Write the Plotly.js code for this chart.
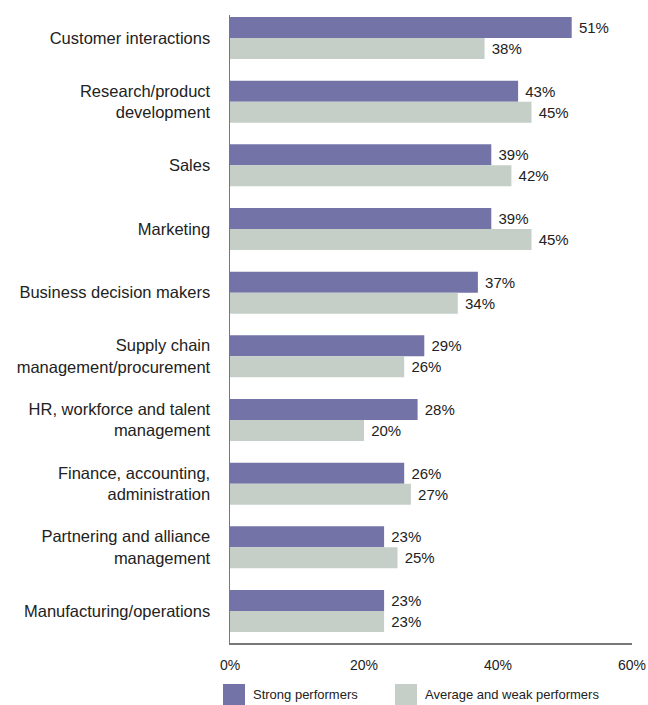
<!DOCTYPE html>
<html>
<head>
<meta charset="utf-8">
<script src="https://cdn.plot.ly/plotly-3.0.1.min.js"></script>
<style>html,body{margin:0;padding:0;background:#fff;}#chart{width:648px;height:705px;}</style>
</head>
<body>
<div id="chart"></div>
<script>
var categories = [
  "Customer interactions",
  "Research/product<br>development",
  "Sales",
  "Marketing",
  "Business decision makers",
  "Supply chain<br>management/procurement",
  "HR, workforce and talent<br>management",
  "Finance, accounting,<br>administration",
  "Partnering and alliance<br>management",
  "Manufacturing/operations"
];
var strongPerformers = [51, 43, 39, 39, 37, 29, 28, 26, 23, 23];
var averageWeakPerformers = [38, 45, 42, 45, 34, 26, 20, 27, 25, 23];
var seriesNames = ["Strong performers", "Average and weak performers"];
var xTickVals = [0, 20, 40, 60];
var xTickText = ["0%", "20%", "40%", "60%"];

var colors = ["#7473a8", "#c5cfc8"];
var FONT = "Liberation Sans, Arial, sans-serif";

var traces = [strongPerformers, averageWeakPerformers].map(function (vals, i) {
  return {
    type: "bar",
    orientation: "h",
    name: seriesNames[i],
    y: categories,
    x: vals,
    marker: { color: colors[i] },
    text: vals.map(function (v) { return "\u00a0" + v + "%"; }),
    texttemplate: "%{text}",
    textposition: "outside",
    cliponaxis: false,
    textfont: { family: FONT, size: 15, color: "#222" },
    hoverinfo: "x+y"
  };
});

// plot area in pixels: x 230..632, y 15..643
var L = 230, R = 632, T = 15, B = 643;
function px(X) { return (X - L) / (R - L); }
function py(Y) { return (B - Y) / (B - T); }

var layout = {
  width: 648,
  height: 705,
  margin: { l: L, r: 648 - R, t: T, b: 705 - B },
  paper_bgcolor: "#fff",
  plot_bgcolor: "#fff",
  barmode: "group",
  bargap: 0.34,
  bargroupgap: 0,
  showlegend: false,
  font: { family: FONT, color: "#222" },
  xaxis: {
    range: [0, 60],
    tickvals: xTickVals,
    ticktext: xTickText,
    showgrid: false,
    zeroline: false,
    showline: true,
    linecolor: "#777",
    linewidth: 1.5,
    ticks: "",
    ticklabelstandoff: 9,
    tickfont: { family: FONT, size: 14, color: "#222" }
  },
  yaxis: {
    type: "category",
    categoryorder: "array",
    categoryarray: categories,
    range: [9.503, -0.361],
    showgrid: false,
    zeroline: false,
    showline: true,
    linecolor: "#777",
    linewidth: 1.5,
    ticks: "",
    ticklabelstandoff: 15,
    tickfont: { family: FONT, size: 16.5, color: "#222" }
  },
  shapes: [
    { type: "rect", xref: "paper", yref: "paper", x0: px(223), x1: px(245), y0: py(705), y1: py(684), fillcolor: colors[0], line: { width: 0 } },
    { type: "rect", xref: "paper", yref: "paper", x0: px(395), x1: px(417), y0: py(705), y1: py(684), fillcolor: colors[1], line: { width: 0 } }
  ],
  annotations: [
    { xref: "paper", yref: "paper", x: px(251), y: py(694.5), xanchor: "left", yanchor: "middle", text: seriesNames[0], showarrow: false, font: { family: FONT, size: 13, color: "#222" } },
    { xref: "paper", yref: "paper", x: px(423), y: py(694.5), xanchor: "left", yanchor: "middle", text: seriesNames[1], showarrow: false, font: { family: FONT, size: 13, color: "#222" } }
  ]
};

Plotly.newPlot("chart", traces, layout, { displayModeBar: false, staticPlot: true });
</script>
</body>
</html>
